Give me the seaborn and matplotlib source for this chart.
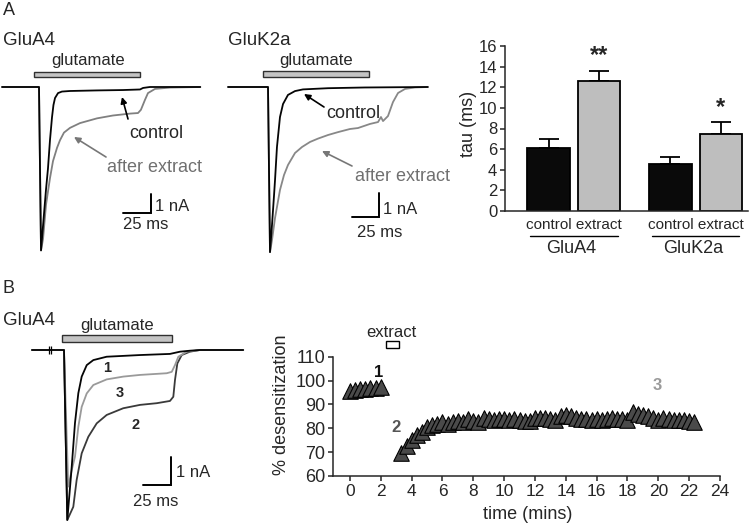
import numpy as np
import pandas as pd
import matplotlib
matplotlib.use("Agg")
import matplotlib.pyplot as plt
import matplotlib.transforms as mtransforms
from matplotlib.patches import Rectangle
import seaborn as sns

# ---------------- data ----------------
# Panel A, GluA4 traces (time in ms from glutamate onset, current in nA)
a4_ctrl_t = [-33, 0, 1.8, 3.6, 6.25, 8.0, 9.8, 11.6, 12.9, 14.3, 17.0, 20.5, 27.7, 51.8, 75, 90.2, 92.9, 99, 144]
a4_ctrl_i = [0, 0, -8.6, -7.3, -5.4, -4.3, -2.8, -1.6, -0.95, -0.58, -0.32, -0.24, -0.21, -0.18, -0.16, -0.13, -0.05, 0, 0]
a4_ext_t = [-33, 0, 1.8, 3.6, 6.25, 9.8, 12.5, 16.1, 18.75, 22.3, 27.7, 36.6, 51.8, 66, 81.3, 88.4, 91, 94.6, 97.3, 103.6, 117, 144]
a4_ext_i = [0, 0, -8.6, -8.0, -6.2, -4.8, -3.9, -3.2, -2.8, -2.4, -2.15, -1.9, -1.65, -1.5, -1.4, -1.37, -1.2, -0.68, -0.32, -0.1, -0.03, 0]

# Panel A, GluK2a traces
k2_ctrl_t = [-37, 0, 1.85, 3.7, 5.6, 6.5, 8.3, 11.1, 13.9, 18.5, 25, 32.4, 55.6, 89.8, 148]
k2_ctrl_i = [0, 0, -6.88, -5.75, -4.5, -3.88, -2.5, -1.25, -0.71, -0.33, -0.17, -0.1, -0.05, -0.02, 0]
k2_ext_t = [-37, 0, 1.85, 3.7, 6.5, 11.1, 14.8, 18.5, 25, 31.5, 38.9, 46.3, 55.6, 64.8, 75.9, 83.3, 94.4,
            101.9, 104.6, 106.5, 111.1, 115.7, 120.4, 126.9, 136.1, 148]
k2_ext_i = [0, 0, -6.88, -6.38, -5.46, -4.29, -3.67, -3.25, -2.75, -2.5, -2.29, -2.15, -2.0, -1.88, -1.75, -1.71, -1.54,
            -1.46, -1.25, -1.42, -1.21, -0.63, -0.25, -0.08, -0.02, 0]

# Panel B traces (1 = before, 2 = just after extract, 3 = recovery)
b1_t = [-28.6, 0, 2.95, 6.9, 9.8, 12.8, 15.8, 20.3, 26.2, 38.1, 67.9, 94.6, 103.6, 112.5, 121.4, 160]
b1_i = [0, 0, -6.07, -4.17, -2.61, -1.54, -0.95, -0.54, -0.36, -0.24, -0.18, -0.14, -0.06, -0.025, 0, 0]
b2_t = [-28.6, 0, 2.95, 8.3, 11.3, 15.8, 21.7, 29.2, 38.1, 52.9, 67.9, 82.8, 94.6, 97.6, 99.1, 101.2, 105.1, 112.5, 121.4, 160]
b2_i = [0, 0, -6.07, -5.6, -4.64, -3.69, -3.10, -2.62, -2.32, -2.08, -1.96, -1.90, -1.82, -1.67, -1.07, -0.48, -0.18, -0.06, 0, 0]
b3_t = [-28.6, 0, 3.8, 6.9, 9.8, 12.8, 15.8, 20.3, 26.2, 38.1, 52.9, 67.9, 91.7, 96.2, 99.1, 102.1, 109.6, 121.4, 160]
b3_i = [0, 0, -4.88, -4.29, -3.81, -2.74, -2.03, -1.55, -1.25, -1.05, -0.95, -0.89, -0.83, -0.78, -0.54, -0.24, -0.06, 0, 0]
b_artifact_t = [-13.4, -11.6]

# glutamate application windows (ms)
a4_glu = (-4.5, 90.0)
k2_glu = (-4.6, 93.5)
b_glu = (-1.8, 96.4)

# Bar chart
receptors = ["GluA4", "GluA4", "GluK2a", "GluK2a"]
conditions = ["control", "extract", "control", "extract"]
tau_mean = [6.1, 12.6, 4.55, 7.45]
tau_sem = [0.87, 1.0, 0.72, 1.16]
signif = ["", "**", "", "*"]

# Time course (% desensitization)
pre_t = [0, 0.33, 0.67, 1.0, 1.33, 1.67, 2.0]
pre_pct = [95.5, 96, 96.5, 96.5, 97, 97, 97.5]
post_t = [3.33, 3.67, 4.0, 4.33, 4.67, 5.0, 5.33, 5.67, 6.0, 6.33, 6.67, 7.0, 7.33, 7.67, 8.0, 8.33, 8.67,
          9.0, 9.33, 9.67, 10.0, 10.33, 10.67, 11.0, 11.33, 11.67, 12.0, 12.33, 12.67, 13.0, 13.33, 13.67,
          14.0, 14.33, 14.67, 15.0, 15.33, 15.67, 16.0, 16.33, 16.67, 17.0, 17.33, 17.67, 18.0, 18.33, 18.67,
          19.0, 19.33, 19.67, 20.0, 20.33, 20.67, 21.0, 21.33, 21.67, 22.0, 22.33]
post_pct = [69.5, 72.5, 75.0, 77.0, 78.5, 80.5, 81.5, 82.0, 82.5, 82.0, 82.5, 83.0, 82.5, 84.0, 83.0, 82.5, 84.5,
            84.0, 83.5, 84.0, 84.0, 83.5, 84.0, 83.5, 83.0, 83.0, 84.5, 84.5, 84.5, 84.0, 83.5, 85.0,
            85.5, 85.0, 84.5, 84.0, 84.0, 83.5, 84.0, 83.5, 84.0, 84.5, 84.0, 84.0, 83.5, 87.0, 86.0,
            85.5, 85.0, 84.5, 83.5, 84.5, 84.0, 83.5, 83.5, 83.5, 83.0, 82.5]
extract_window = (2.33, 3.18)

# ---------------- style ----------------
sns.set_style("ticks")
plt.rcParams["font.family"] = ["Liberation Sans", "DejaVu Sans"]
plt.rcParams["axes.linewidth"] = 1.1

W, H = 750, 527
fig = plt.figure(figsize=(7.5, 5.27), dpi=100)


def ftext(px, py, s, **kw):
    kw.setdefault("va", "baseline")
    kw.setdefault("fontsize", 12)
    fig.text(px / W, 1 - py / H, s, **kw)


def farrow(x1, y1, x2, y2, color):
    fig.axes[0].annotate("", xy=(x2 / W, 1 - y2 / H), xytext=(x1 / W, 1 - y1 / H),
                         xycoords="figure fraction", textcoords="figure fraction",
                         arrowprops=dict(arrowstyle="-|>", color=color, lw=1.2,
                                         mutation_scale=9, shrinkA=0, shrinkB=0))


def trace_ax(x0, y0, sx, sy, tlim, ilim):
    l = x0 + tlim[0] * sx
    r = x0 + tlim[1] * sx
    top = y0 - ilim[1] * sy
    bot = y0 - ilim[0] * sy
    ax = fig.add_axes([l / W, 1 - bot / H, (r - l) / W, (bot - top) / H])
    ax.set_xlim(*tlim)
    ax.set_ylim(*ilim)
    ax.set_axis_off()
    return ax


def line(ax, t, i, color, lw=1.3):
    sns.lineplot(x=t, y=i, ax=ax, color=color, linewidth=lw, estimator=None, sort=False)


def glu_bar(ax, win, lo, hi):
    ax.add_patch(Rectangle((win[0], lo), win[1] - win[0], hi - lo, facecolor="#c4c4c4",
                           edgecolor="#303030", lw=1.0, clip_on=False))


def scale_bar(ax, t_right, i_bottom):
    ax.plot([t_right - 25, t_right, t_right], [i_bottom, i_bottom, i_bottom + 1],
            color="k", lw=1.4, clip_on=False, solid_joinstyle="miter")


# ---- Panel A, GluA4 traces
ax1 = trace_ax(39, 87, 1.12, 19, (-34, 146), (-9.2, 1.2))
line(ax1, a4_ext_t, a4_ext_i, "#808080")
line(ax1, a4_ctrl_t, a4_ctrl_i, "#050505")
glu_bar(ax1, a4_glu, 0.53, 0.79)
scale_bar(ax1, 100, -6.63)

# ---- Panel A, GluK2a traces
ax2 = trace_ax(268, 87, 1.08, 24, (-38, 150), (-7.3, 1.0))
line(ax2, k2_ext_t, k2_ext_i, "#888888")
line(ax2, k2_ctrl_t, k2_ctrl_i, "#050505")
glu_bar(ax2, k2_glu, 0.42, 0.67)
scale_bar(ax2, 102.8, -5.42)

# ---- Panel B traces
ax3 = trace_ax(64, 350, 1.12, 28, (-30, 162), (-6.4, 0.8))
line(ax3, b2_t, b2_i, "#3a3a3a")
line(ax3, b3_t, b3_i, "#9a9a9a")
line(ax3, b1_t, b1_i, "#050505")
ax3.vlines(b_artifact_t, -0.15, 0.15, color="k", lw=0.9)
glu_bar(ax3, b_glu, 0.29, 0.54)
scale_bar(ax3, 95.3, -4.82)

# ---- Bar chart
axb = fig.add_axes([505 / W, 1 - 211 / H, 243 / W, 165 / H])
df = pd.DataFrame({"receptor": receptors, "condition": conditions, "tau": tau_mean})
sns.barplot(data=df, x="receptor", y="tau", hue="condition",
            palette={"control": "#0a0a0a", "extract": "#bebebe"},
            edgecolor="k", linewidth=1.3, gap=0.16, width=0.83,
            errorbar=None, legend=False, ax=axb)
bars = sorted(axb.patches, key=lambda p: p.get_x())
centers = [p.get_x() + p.get_width() / 2 for p in bars]
axb.errorbar(centers, tau_mean, yerr=[np.zeros(len(tau_sem)), tau_sem], fmt="none",
             ecolor="k", elinewidth=1.3, capsize=7.5, capthick=1.3, zorder=0.5)
for c, m, s, lab in zip(centers, tau_mean, tau_sem, signif):
    if lab:
        axb.text(c, m + s + 0.35, lab, ha="center", va="bottom", fontsize=17, fontweight="bold")
axb.set_xlim(-0.565, 1.43)
axb.set_ylim(0, 16)
axb.set_yticks(range(0, 17, 2))
axb.tick_params(axis="y", labelsize=12, length=3.6, width=1.1, pad=2)
axb.tick_params(axis="x", length=0, labelbottom=False)
axb.set_xlabel("")
axb.set_ylabel("tau (ms)", fontsize=13)
axb.yaxis.set_label_coords(-0.115, 0.53)
sns.despine(ax=axb)
blend = mtransforms.blended_transform_factory(axb.transData, axb.transAxes)
for gx, g in enumerate(["GluA4", "GluK2a"]):
    axb.text(gx, -0.109, "control extract", transform=blend, ha="center", va="baseline", fontsize=11)
    axb.plot([gx - 0.36, gx + 0.36], [-0.149, -0.149], transform=blend, color="k", lw=1.0, clip_on=False)
    axb.text(gx - 0.02, -0.255, g, transform=blend, ha="center", va="baseline", fontsize=13)

# ---- Time course
axs = fig.add_axes([333.3 / W, 1 - 476 / H, 386.7 / W, 119.3 / H])
for tt, pp in [(pre_t, pre_pct), (post_t, post_pct)]:
    sns.scatterplot(x=tt, y=pp, ax=axs, marker="^", s=125, color="#4a4a4a",
                    edgecolor="k", linewidth=0.8, zorder=3, clip_on=False)
axs.set_xlim(-1.08, 24)
axs.set_ylim(60, 110)
axs.set_xticks(range(0, 25, 2))
axs.set_yticks(range(60, 111, 10))
axs.tick_params(axis="x", labelsize=12.5, length=3.6, width=1.1, pad=2)
axs.tick_params(axis="y", labelsize=13, length=3.6, width=1.1, pad=2)
axs.set_xlabel("")
axs.set_ylabel("% desensitization", fontsize=13)
axs.yaxis.set_label_coords(-0.112, 0.595)
sns.despine(ax=axs)
axs.add_patch(Rectangle((extract_window[0], 113.5), extract_window[1] - extract_window[0], 3.2,
                        facecolor="white", edgecolor="k", lw=1.0, clip_on=False))
axs.text(sum(extract_window) / 2 - 0.05, 118.3, "extract", ha="center", va="baseline", fontsize=12)
axs.text(1.84, 101.6, "1", ha="center", va="baseline", fontsize=12, fontweight="bold", color="#111111")
axs.text(3.0, 78.6, "2", ha="center", va="baseline", fontsize=12, fontweight="bold", color="#555555")
axs.text(19.9, 96.0, "3", ha="center", va="baseline", fontsize=12, fontweight="bold", color="#9a9a9a")

# ---- Text labels (figure pixel positions)
ftext(3, 15, "A", fontsize=13)
ftext(3, 45, "GluA4", fontsize=13.5)
ftext(228, 45, "GluK2a", fontsize=13.5)
ftext(88, 65, "glutamate", ha="center")
ftext(316, 65, "glutamate", ha="center")
ftext(129, 138, "control", fontsize=13)
ftext(107, 172, "after extract", fontsize=13, color="#707070")
ftext(326, 118, "control", fontsize=13)
ftext(355, 181, "after extract", fontsize=13, color="#707070")
ftext(155, 211, "1 nA")
ftext(123, 229, "25 ms")
ftext(383, 214, "1 nA")
ftext(357, 237, "25 ms")
ftext(3, 293, "B", fontsize=13)
ftext(3, 325, "GluA4", fontsize=13.5)
ftext(117, 330, "glutamate", ha="center")
ftext(107, 372, "1", fontsize=10.5, fontweight="bold", ha="center")
ftext(120, 397, "3", fontsize=10.5, fontweight="bold", ha="center")
ftext(136, 429, "2", fontsize=10.5, fontweight="bold", ha="center")
ftext(176, 477, "1 nA")
ftext(133, 506, "25 ms")
ftext(527.5, 519, "time (mins)", fontsize=13, ha="center")

farrow(128, 119, 122, 97, "k")
farrow(106, 157, 74, 137, "#777777")
farrow(324, 107, 304, 94, "k")
farrow(352, 166, 322, 151, "#777777")

fig.savefig("out.png", dpi=100)
